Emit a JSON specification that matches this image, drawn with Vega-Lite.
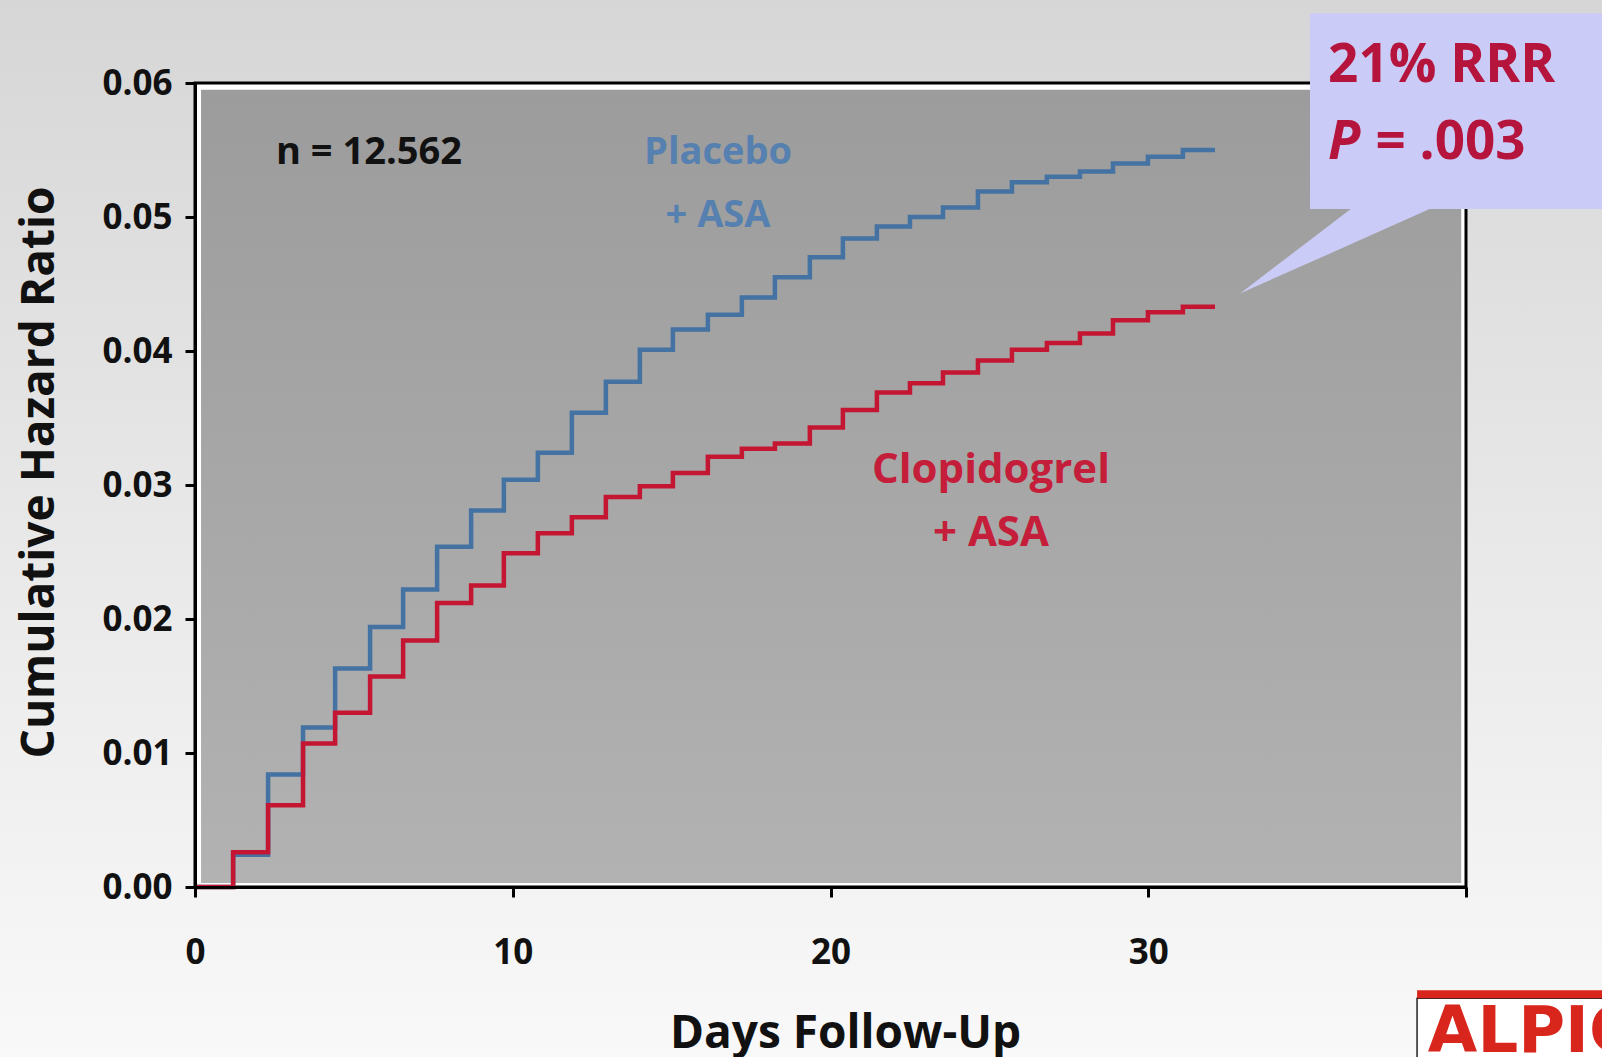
{
  "$schema": "https://vega.github.io/schema/vega-lite/v6.json",
  "width": 1271,
  "height": 804,
  "autosize": {"type": "none"},
  "padding": {"left": 195, "top": 83, "right": 136, "bottom": 170},
  "background": "#ececec",
  "config": {"view": {"stroke": null}, "font": "Open Sans"},
  "encoding": {
    "x": {
      "field": "x", "type": "quantitative",
      "scale": {"domain": [0, 40], "nice": false, "zero": false},
      "axis": {
        "values": [0, 10, 20, 30, 40], "format": "d",
        "labelExpr": "datum.value == 40 ? '' : datum.label",
        "title": "Days Follow-Up", "titleFontSize": 46, "titleFontWeight": "bold", "titleColor": "#111111",
        "titleX": 650, "titleY": 160, "titleBaseline": "alphabetic", "titleAlign": "center",
        "domainColor": "#000000", "domainWidth": 3, "tickColor": "#000000", "tickWidth": 3, "tickSize": 10,
        "labelFontSize": 35, "labelFontWeight": "bold", "labelColor": "#111111", "labelPadding": 38,
        "labelFlush": false, "labelOverlap": false, "grid": false, "zindex": 1
      }
    },
    "y": {
      "field": "y", "type": "quantitative",
      "scale": {"domain": [0, 0.06], "nice": false, "zero": false},
      "axis": {
        "values": [0, 0.01, 0.02, 0.03, 0.04, 0.05, 0.06], "format": ".2f",
        "title": "Cumulative Hazard Ratio", "titleFontSize": 46, "titleFontWeight": "bold", "titleColor": "#111111",
        "titleX": -142, "titleY": 389, "titleAngle": -90, "titleBaseline": "alphabetic", "titleAlign": "center",
        "domainColor": "#000000", "domainWidth": 3, "tickColor": "#000000", "tickWidth": 3, "tickSize": 10,
        "labelFontSize": 35, "labelFontWeight": "bold", "labelColor": "#111111", "labelPadding": 13,
        "labelFlush": false, "labelOverlap": false, "grid": false, "zindex": 1
      }
    }
  },
  "layer": [
    {
      "data": {"values": [{"x": -6.2, "x2": 44.6, "y": -0.0135, "y2": 0.0665}]},
      "mark": {"type": "rect", "color": {"gradient": "linear", "x1": 0, "y1": 0, "x2": 0, "y2": 1,
        "stops": [{"offset": 0, "color": "#d6d6d6"}, {"offset": 0.5, "color": "#e8e8e8"}, {"offset": 1, "color": "#f9f9f9"}]}},
      "encoding": {"x2": {"field": "x2"}, "y2": {"field": "y2"}}
    },
    {
      "data": {"values": [{"x": 0, "x2": 40, "y": 0, "y2": 0.06}]},
      "mark": {"type": "rect", "fill": "#ffffff", "stroke": "#000000", "strokeWidth": 3},
      "encoding": {"x2": {"field": "x2"}, "y2": {"field": "y2"}}
    },
    {
      "data": {"values": [{"x": 0.19, "x2": 39.85, "y": 0.0003, "y2": 0.0595}]},
      "mark": {"type": "rect", "color": {"gradient": "linear", "x1": 0, "y1": 0, "x2": 0, "y2": 1,
        "stops": [{"offset": 0, "color": "#9c9c9c"}, {"offset": 1, "color": "#b2b2b2"}]}},
      "encoding": {"x2": {"field": "x2"}, "y2": {"field": "y2"}}
    },
    {
      "data": {"values": [
        {"arm": "Placebo + ASA", "x": 0, "y": 0},
        {"arm": "Placebo + ASA", "x": 1.2, "y": 0.0024},
        {"arm": "Placebo + ASA", "x": 2.3, "y": 0.0084},
        {"arm": "Placebo + ASA", "x": 3.4, "y": 0.0119},
        {"arm": "Placebo + ASA", "x": 4.41, "y": 0.0163},
        {"arm": "Placebo + ASA", "x": 5.51, "y": 0.0194},
        {"arm": "Placebo + ASA", "x": 6.55, "y": 0.0222},
        {"arm": "Placebo + ASA", "x": 7.62, "y": 0.0254},
        {"arm": "Placebo + ASA", "x": 8.69, "y": 0.0281},
        {"arm": "Placebo + ASA", "x": 9.72, "y": 0.0304},
        {"arm": "Placebo + ASA", "x": 10.79, "y": 0.0324},
        {"arm": "Placebo + ASA", "x": 11.86, "y": 0.0354},
        {"arm": "Placebo + ASA", "x": 12.93, "y": 0.0377},
        {"arm": "Placebo + ASA", "x": 14.0, "y": 0.0401},
        {"arm": "Placebo + ASA", "x": 15.04, "y": 0.0416},
        {"arm": "Placebo + ASA", "x": 16.14, "y": 0.0427},
        {"arm": "Placebo + ASA", "x": 17.21, "y": 0.044},
        {"arm": "Placebo + ASA", "x": 18.25, "y": 0.0455},
        {"arm": "Placebo + ASA", "x": 19.35, "y": 0.047},
        {"arm": "Placebo + ASA", "x": 20.39, "y": 0.0484},
        {"arm": "Placebo + ASA", "x": 21.46, "y": 0.0493},
        {"arm": "Placebo + ASA", "x": 22.5, "y": 0.05},
        {"arm": "Placebo + ASA", "x": 23.54, "y": 0.0507},
        {"arm": "Placebo + ASA", "x": 24.64, "y": 0.0519},
        {"arm": "Placebo + ASA", "x": 25.71, "y": 0.0526},
        {"arm": "Placebo + ASA", "x": 26.81, "y": 0.053},
        {"arm": "Placebo + ASA", "x": 27.85, "y": 0.0534},
        {"arm": "Placebo + ASA", "x": 28.89, "y": 0.054},
        {"arm": "Placebo + ASA", "x": 29.99, "y": 0.0545},
        {"arm": "Placebo + ASA", "x": 31.09, "y": 0.055},
        {"arm": "Placebo + ASA", "x": 32.1, "y": 0.055},
        {"arm": "Clopidogrel + ASA", "x": 0, "y": 0},
        {"arm": "Clopidogrel + ASA", "x": 1.2, "y": 0.0026},
        {"arm": "Clopidogrel + ASA", "x": 2.3, "y": 0.0061},
        {"arm": "Clopidogrel + ASA", "x": 3.4, "y": 0.0107},
        {"arm": "Clopidogrel + ASA", "x": 4.41, "y": 0.013},
        {"arm": "Clopidogrel + ASA", "x": 5.51, "y": 0.0157},
        {"arm": "Clopidogrel + ASA", "x": 6.55, "y": 0.0184},
        {"arm": "Clopidogrel + ASA", "x": 7.62, "y": 0.0212},
        {"arm": "Clopidogrel + ASA", "x": 8.69, "y": 0.0225},
        {"arm": "Clopidogrel + ASA", "x": 9.72, "y": 0.0249},
        {"arm": "Clopidogrel + ASA", "x": 10.79, "y": 0.0264},
        {"arm": "Clopidogrel + ASA", "x": 11.86, "y": 0.0276},
        {"arm": "Clopidogrel + ASA", "x": 12.93, "y": 0.0291},
        {"arm": "Clopidogrel + ASA", "x": 14.0, "y": 0.0299},
        {"arm": "Clopidogrel + ASA", "x": 15.04, "y": 0.0309},
        {"arm": "Clopidogrel + ASA", "x": 16.14, "y": 0.0321},
        {"arm": "Clopidogrel + ASA", "x": 17.21, "y": 0.0327},
        {"arm": "Clopidogrel + ASA", "x": 18.25, "y": 0.0331},
        {"arm": "Clopidogrel + ASA", "x": 19.35, "y": 0.0343},
        {"arm": "Clopidogrel + ASA", "x": 20.39, "y": 0.0356},
        {"arm": "Clopidogrel + ASA", "x": 21.46, "y": 0.0369},
        {"arm": "Clopidogrel + ASA", "x": 22.5, "y": 0.0376},
        {"arm": "Clopidogrel + ASA", "x": 23.54, "y": 0.0384},
        {"arm": "Clopidogrel + ASA", "x": 24.64, "y": 0.0393},
        {"arm": "Clopidogrel + ASA", "x": 25.71, "y": 0.0401},
        {"arm": "Clopidogrel + ASA", "x": 26.81, "y": 0.0406},
        {"arm": "Clopidogrel + ASA", "x": 27.85, "y": 0.0413},
        {"arm": "Clopidogrel + ASA", "x": 28.89, "y": 0.0423},
        {"arm": "Clopidogrel + ASA", "x": 29.99, "y": 0.0429},
        {"arm": "Clopidogrel + ASA", "x": 31.09, "y": 0.0433},
        {"arm": "Clopidogrel + ASA", "x": 32.1, "y": 0.0433}
      ]},
      "mark": {"type": "line", "interpolate": "step-after", "strokeWidth": 4.5, "strokeCap": "butt", "strokeJoin": "miter"},
      "encoding": {
        "color": {"field": "arm", "type": "nominal", "legend": null,
          "scale": {"domain": ["Clopidogrel + ASA", "Placebo + ASA"], "range": ["#c41632", "#4472a3"]}},
        "order": {"field": "x", "type": "quantitative"}
      }
    },
    {
      "data": {"values": [
        {"x": 32.89, "y": 0.0443, "y2": 0.0443},
        {"x": 36.6, "y": 0.051, "y2": 0.0482},
        {"x": 38.96, "y": 0.051, "y2": 0.0507}
      ]},
      "mark": {"type": "area", "color": "#cbcbf7", "opacity": 1, "interpolate": "linear"},
      "encoding": {"y2": {"field": "y2"}}
    },
    {
      "data": {"values": [{"x": 35.09, "x2": 44.6, "y": 0.0506, "y2": 0.0652}]},
      "mark": {"type": "rect", "color": "#cbcbf7", "opacity": 1},
      "encoding": {"x2": {"field": "x2"}, "y2": {"field": "y2"}}
    },
    {
      "data": {"values": [{"x": 2.55, "y": 0.0548, "label": "n = 12.562"}]},
      "mark": {"type": "text", "align": "left", "baseline": "middle", "fontSize": 38, "fontWeight": "bold", "color": "#111111"},
      "encoding": {"text": {"field": "label"}}
    },
    {
      "data": {"values": [{"x": 16.46, "y": 0.0548, "label": "Placebo"}, {"x": 16.46, "y": 0.0501, "label": "+ ASA"}]},
      "mark": {"type": "text", "align": "center", "baseline": "middle", "fontSize": 38, "fontWeight": "bold", "color": "#5580b0"},
      "encoding": {"text": {"field": "label"}}
    },
    {
      "data": {"values": [{"x": 25.05, "y": 0.0311, "label": "Clopidogrel"}, {"x": 25.05, "y": 0.0264, "label": "+ ASA"}]},
      "mark": {"type": "text", "align": "center", "baseline": "middle", "fontSize": 42, "fontWeight": "bold", "color": "#c41e3a"},
      "encoding": {"text": {"field": "label"}}
    },
    {
      "data": {"values": [{"x": 35.66, "y": 0.0613, "label": "21% RRR"}, {"x": 37.15, "y": 0.0555, "label": "= .003"}]},
      "mark": {"type": "text", "align": "left", "baseline": "middle", "fontSize": 53, "fontWeight": "bold", "color": "#b5153c"},
      "encoding": {"text": {"field": "label"}}
    },
    {
      "data": {"values": [{"x": 35.66, "y": 0.0555, "label": "P"}]},
      "mark": {"type": "text", "align": "left", "baseline": "middle", "fontSize": 53, "fontWeight": "bold", "fontStyle": "italic", "color": "#b5153c"},
      "encoding": {"text": {"field": "label"}}
    },
    {
      "data": {"values": [{"x": 38.46, "x2": 44.6, "y": -0.0135, "y2": -0.0083}]},
      "mark": {"type": "rect", "fill": "#ffffff", "stroke": "#222222", "strokeWidth": 1.5},
      "encoding": {"x2": {"field": "x2"}, "y2": {"field": "y2"}}
    },
    {
      "data": {"values": [{"x": 38.46, "x2": 44.6, "y": -0.0083, "y2": -0.0077}]},
      "mark": {"type": "rect", "color": "#d9261c", "opacity": 1},
      "encoding": {"x2": {"field": "x2"}, "y2": {"field": "y2"}}
    },
    {
      "data": {"values": [{"x": 38.8, "y": -0.0123, "label": "ALPIC"}]},
      "mark": {"type": "text", "align": "left", "baseline": "alphabetic", "font": "DejaVu Sans", "fontSize": 64, "fontWeight": "bold", "color": "#d9261c"},
      "encoding": {"text": {"field": "label"}}
    }
  ]
}
